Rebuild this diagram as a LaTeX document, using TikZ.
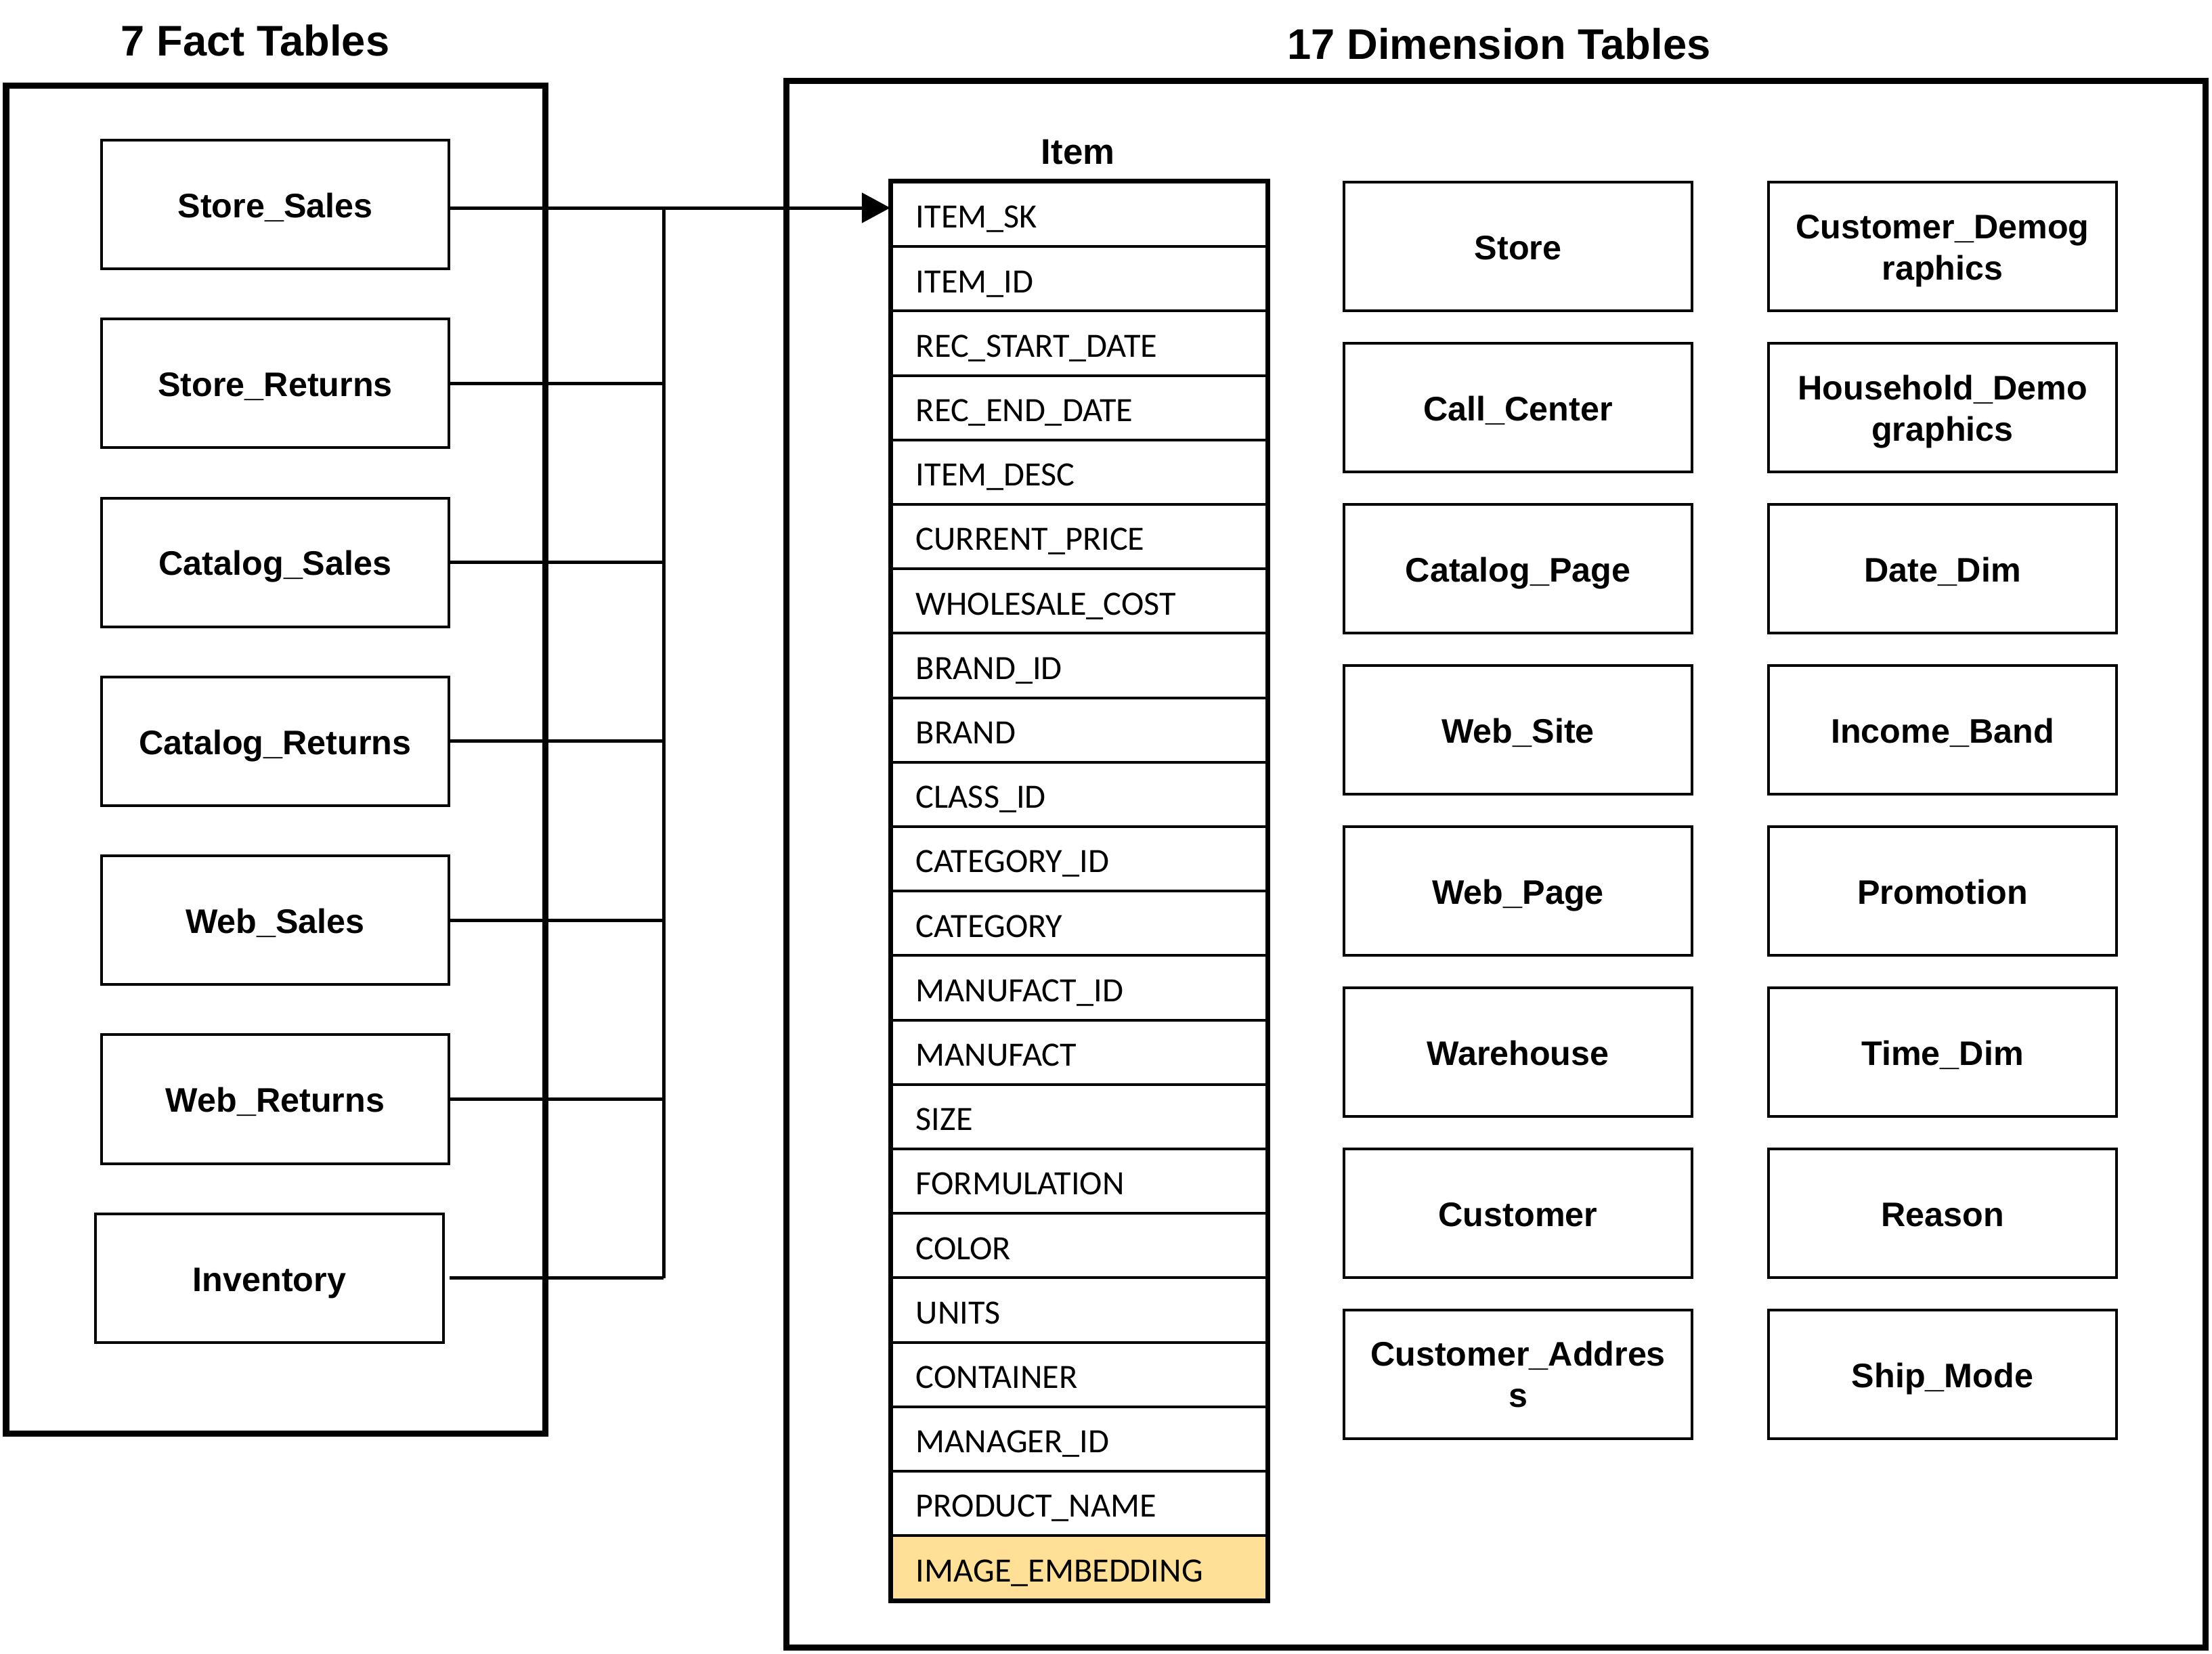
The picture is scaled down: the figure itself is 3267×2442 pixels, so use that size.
\documentclass[tikz,border=0pt]{standalone}
\usepackage{fontspec}
\setmainfont{Liberation Sans}
\newfontfamily\fieldfont{Carlito}
\usetikzlibrary{arrows.meta}
\definecolor{embed}{HTML}{FFE096}
\begin{document}
\begin{tikzpicture}[x=0.01cm,y=-0.01cm,
  outerbox/.style={draw, line width=2.56pt},
  heading/.style={font=\fontsize{18}{21.6}\selectfont\bfseries, inner sep=0pt},
  tbox/.style={draw, line width=1.14pt, minimum width=5.13cm, minimum height=1.9cm,
    inner sep=0pt, align=center, font=\fontsize{14.3}{17.2}\selectfont\bfseries},
  oneline/.style={text height=11pt, text depth=0pt},
  twoline/.style={text height=31pt, text depth=3pt},
  fieldrow/.style={draw, line width=1.14pt, minimum height=0.952cm, text width=4.82cm,
    inner xsep=0.36cm, inner ysep=0pt, align=left, text height=11.5pt, text depth=0pt,
    font=\fieldfont\fontsize{14.3}{17}\selectfont},
  conn/.style={line width=1.42pt}]
\useasboundingbox (0,0) rectangle (3267,2442);

% headings
\node[heading] (hfact) at (377,60) {7 Fact Tables};
\node[heading] (hdim) at (2214,65) {17 Dimension Tables};

% outer frames
\draw[outerbox] (9,126) rectangle (805,2117);
\draw[outerbox] (1161,119) rectangle (3257,2433);

% fact tables
\node[tbox, oneline] (ss) at (406.5,302.0) {Store\_Sales};
\node[tbox, oneline] (sr) at (406.5,566.3) {Store\_Returns};
\node[tbox, oneline] (cs) at (406.5,830.6) {Catalog\_Sales};
\node[tbox, oneline] (cr) at (406.5,1094.9) {Catalog\_Returns};
\node[tbox, oneline] (ws) at (406.5,1359.2) {Web\_Sales};
\node[tbox, oneline] (wr) at (406.5,1623.5) {Web\_Returns};
\node[tbox, oneline, minimum width=5.14cm] (inv) at (398,1887.8) {Inventory};

% item table
\node[font=\fontsize{15}{18}\selectfont\bfseries, inner sep=0pt] (itemh) at (1592,225) {Item};
\foreach \f [count=\i] in {ITEM\_SK, ITEM\_ID, REC\_START\_DATE, REC\_END\_DATE, ITEM\_DESC,
  CURRENT\_PRICE, WHOLESALE\_COST, BRAND\_ID, BRAND, CLASS\_ID, CATEGORY\_ID, CATEGORY,
  MANUFACT\_ID, MANUFACT, SIZE, FORMULATION, COLOR, UNITS, CONTAINER, MANAGER\_ID,
  PRODUCT\_NAME} {
  \node[fieldrow] (r\i) at (1594,{269+95.2*(\i-0.5)}) {\f};
}
\node[fieldrow, fill=embed] (r22) at (1594,{269+95.2*21.5}) {IMAGE\_EMBEDDING};
\draw[line width=1.7pt] (r1.north west) rectangle (r22.south east);

% dimension tables
\foreach \t [count=\i from 0] in {Store, Call\_Center, Catalog\_Page, Web\_Site, Web\_Page,
  Warehouse, Customer} {
  \node[tbox, oneline] (da\i) at (2242,{364+238*\i}) {\t};
}
\node[tbox] (da7) at (2242,{364+238*7}) {Customer\_Addres\\s};
\node[tbox, twoline] (db0) at (2869,364) {Customer\_Demog\\raphics};
\node[tbox, twoline] (db1) at (2869,602) {Household\_Demo\\graphics};
\foreach \t [count=\i from 2] in {Date\_Dim, Income\_Band, Promotion, Time\_Dim, Reason, Ship\_Mode} {
  \node[tbox, oneline] (db\i) at (2869,{364+238*\i}) {\t};
}

% connectors
\coordinate (bustop) at (980,307);
\coordinate (busbot) at (980,1887.8);
\draw[conn] (bustop) -- (busbot);
\draw[conn, -{Triangle[length=0.42cm, width=0.44cm]}] (ss.east |- bustop) -- (bustop -| r1.west);
\foreach \n in {sr, cs, cr, ws, wr} {
  \draw[conn] (\n.east) -- (\n.east -| bustop);
}
\draw[conn] ([xshift=0.07cm]inv.east) -- (inv.east -| bustop);
\end{tikzpicture}
\end{document}
